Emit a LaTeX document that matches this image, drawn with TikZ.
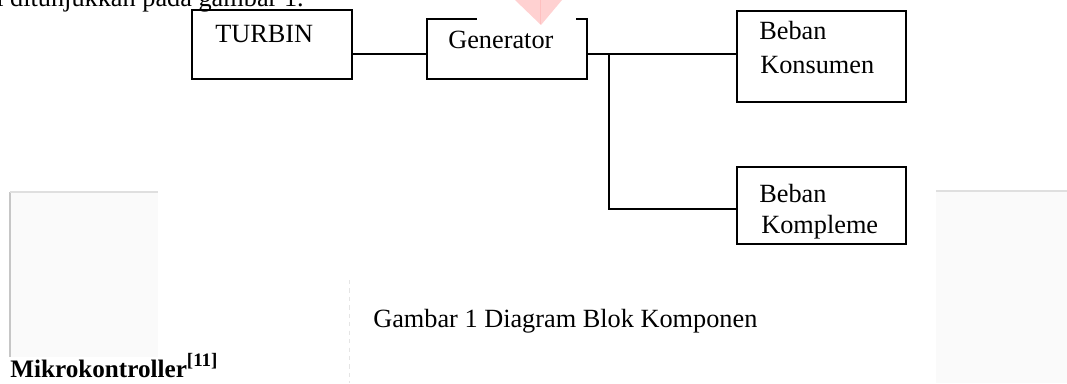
\documentclass[tikz,border=0pt]{standalone}
\usepackage{fontspec}
\setmainfont{Liberation Serif}
\usepackage{tikz}
\usetikzlibrary{positioning,calc}

\begin{document}
\begin{tikzpicture}[
x=0.025cm,y=-0.025cm,
blok/.style={
  draw,
  rectangle,
  line width=1.4pt,
  inner sep=0pt
},
wire/.style={
  line width=1.4pt
},
teks/.style={
  anchor=base west,
  inner sep=0pt,
  font=\fontsize{18.7}{22}\selectfont
},
panel/.style={
  fill=gray!4,
  draw=none
}
]
\clip (0,0) rectangle (1067,383);
\fill[white] (0,0) rectangle (1067,383);

% scanned page background
\fill[panel] (9,192) rectangle (158,357);
\draw[gray!45,line width=0.8pt] (10,192) -- (10,357);
\draw[gray!25,line width=0.8pt] (10,192) -- (158,192);
\fill[panel] (936,191) rectangle (1067,383);
\draw[gray!25,line width=0.8pt] (936,191) -- (1067,191);
\draw[gray!20,dashed] (349,280) -- (349,383);

% watermark
\fill[red!18] (515,0) -- (541,25) -- (562,0) -- cycle;
\draw[red!25] (540,0) -- (540,24);

\node[teks] (kalimat) at (-4,6.5) {l ditunjukkan pada gambar 1.};

% blocks
\node[blok,minimum width=4cm,minimum height=1.725cm] (turbin) at (272,44.5) {};
\node[draw=none,minimum width=4cm,minimum height=1.5cm,inner sep=0pt] (gen) at (507,49) {};
\draw[wire] ($(gen.north west)+(50,0)$) -- (gen.north west) -- (gen.south west)
  -- (gen.south east) -- (gen.north east) -- ++(-11,0);
\node[blok,minimum width=4.225cm,minimum height=2.275cm] (konsumen) at (821.5,56.5) {};
\node[blok,minimum width=4.225cm,minimum height=1.925cm] (kompleme) at (821.5,205.5) {};

\node[teks] (tturbin) at (215,42) {TURBIN};
\node[teks] (tgen) at (448,48.5) {Generator};
\node[teks] (tkons1) at (759,39.5) {Beban};
\node[teks] (tkons2) at (760,73.5) {Konsumen};
\node[teks] (tkomp1) at (759,202) {Beban};
\node[teks] (tkomp2) at (761,233) {Kompleme};

% connections
\coordinate (bus) at (609,54);
\coordinate (tap) at (609,209);
\draw[wire] (turbin.east |- bus) -- (gen.west |- bus);
\draw[wire] (gen.east |- bus) -- (konsumen.west |- bus);
\draw[wire] (bus) -- (tap) -- (kompleme.west |- tap);

\node[teks] (caption) at (373,327) {Gambar 1 Diagram Blok Komponen};
\node[teks,font=\fontsize{17.9}{22}\selectfont\bfseries] (judul) at (10,377)
  {Mikrokontroller\raisebox{0.42em}{\fontsize{13.5}{14}\selectfont[11]}};
\end{tikzpicture}
\end{document}
